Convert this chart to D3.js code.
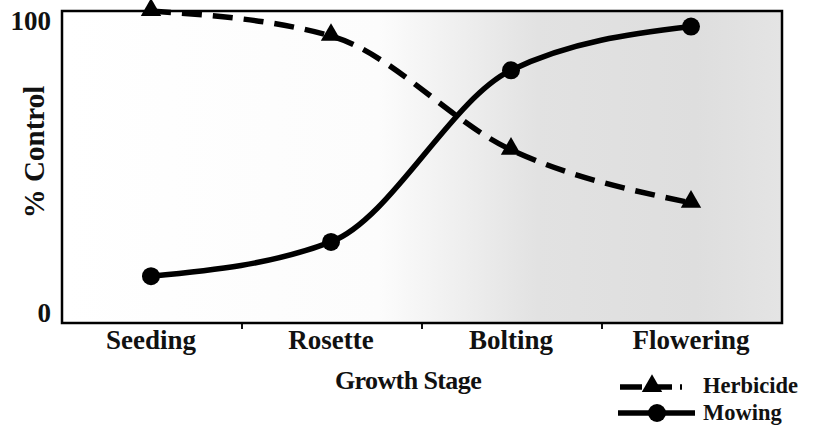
<!DOCTYPE html>
<html><head><meta charset="utf-8">
<script src="https://cdn.jsdelivr.net/npm/d3@7"></script>
<style>body{margin:0;background:#fff}svg{display:block}text{font-family:"Liberation Serif","Times New Roman",serif;font-weight:bold;fill:#111}</style>
</head><body>
<svg id="c" width="814" height="436"></svg>
<script>
const stages = ["Seeding", "Rosette", "Bolting", "Flowering"];
const herbicide = [100, 92, 55.5, 38.5];
const mowing = [15, 26, 81, 95];
const yTicks = [0, 100];
const seriesNames = ["Herbicide", "Mowing"];

const svg = d3.select("#c");
const L = 62, R = 782, T = 11, B = 323;

const x = d3.scaleBand().domain(stages).range([L, R]);
const y = d3.scaleLinear().domain([0, 100]).range([B, T]);

const defs = svg.append("defs");
const g = defs.append("linearGradient").attr("id", "bg").attr("x1", "0").attr("x2", "1").attr("y1", "0").attr("y2", "0");
g.append("stop").attr("offset", "0").attr("stop-color", "#ffffff");
g.append("stop").attr("offset", "0.44").attr("stop-color", "#fcfcfc");
g.append("stop").attr("offset", "0.66").attr("stop-color", "#e2e2e2");
g.append("stop").attr("offset", "0.88").attr("stop-color", "#dedede");
g.append("stop").attr("offset", "1").attr("stop-color", "#e4e4e4");

svg.append("rect").attr("x", L).attr("y", T).attr("width", R - L).attr("height", B - T)
  .attr("fill", "url(#bg)");

// x axis ticks at band boundaries
const bounds = stages.slice(1).map(s => x(s));
svg.selectAll(".xt").data(bounds).join("line")
  .attr("x1", d => d).attr("x2", d => d).attr("y1", B).attr("y2", B + 6)
  .attr("stroke", "#111").attr("stroke-width", 2);

svg.selectAll(".xl").data(stages).join("text")
  .attr("x", d => x(d) + x.bandwidth() / 2 - 1).attr("y", 349)
  .attr("text-anchor", "middle").attr("font-size", 27).text(d => d);

svg.selectAll(".yl").data(yTicks).join("text")
  .attr("x", 51).attr("y", d => d === 0 ? y(d) - 1 : y(d) + 19)
  .attr("text-anchor", "end").attr("font-size", 27).text(d => d);

svg.append("text").attr("transform", "translate(44,152) rotate(-90)")
  .attr("text-anchor", "middle").attr("font-size", 29).text("% Control");

svg.append("text").attr("x", 408).attr("y", 389).attr("text-anchor", "middle")
  .attr("font-size", 26).attr("letter-spacing", "-0.6").text("Growth Stage");

const cx = d => x(d) + x.bandwidth() / 2 - 1;
const line = d3.line().x((d, i) => cx(stages[i])).y(d => y(d)).curve(d3.curveMonotoneX);

svg.append("path").attr("d", line(herbicide)).attr("fill", "none")
  .attr("stroke", "#000").attr("stroke-width", 5.5).attr("stroke-dasharray", "20,11");
svg.append("path").attr("d", line(mowing)).attr("fill", "none")
  .attr("stroke", "#000").attr("stroke-width", 5.5);

const tri = d3.symbol().type(d3.symbolTriangle).size(180);
svg.selectAll(".tri").data(herbicide).join("path")
  .attr("d", tri).attr("transform", (d, i) => `translate(${cx(stages[i])},${y(d) - 1})`).attr("fill", "#000");
svg.selectAll(".cir").data(mowing).join("circle")
  .attr("cx", (d, i) => cx(stages[i])).attr("cy", d => y(d)).attr("r", 9).attr("fill", "#000");

// frame
svg.append("rect").attr("x", L).attr("y", T).attr("width", R - L).attr("height", B - T)
  .attr("fill", "none").attr("stroke", "#000").attr("stroke-width", 2.5);

// legend
const leg = svg.append("g");
leg.append("line").attr("x1", 620).attr("x2", 682).attr("y1", 387).attr("y2", 387)
  .attr("stroke", "#000").attr("stroke-width", 5.5).attr("stroke-dasharray", "22,8");
leg.append("path").attr("d", tri).attr("transform", "translate(652,386)").attr("fill", "#000");
leg.append("line").attr("x1", 618).attr("x2", 695).attr("y1", 413).attr("y2", 413)
  .attr("stroke", "#000").attr("stroke-width", 5.5);
leg.append("circle").attr("cx", 657).attr("cy", 413).attr("r", 9).attr("fill", "#000");
leg.selectAll(".lt").data(seriesNames).join("text")
  .attr("x", 703).attr("y", (d, i) => 393 + i * 27).attr("font-size", 22.5).text(d => d);
</script>
</body></html>
